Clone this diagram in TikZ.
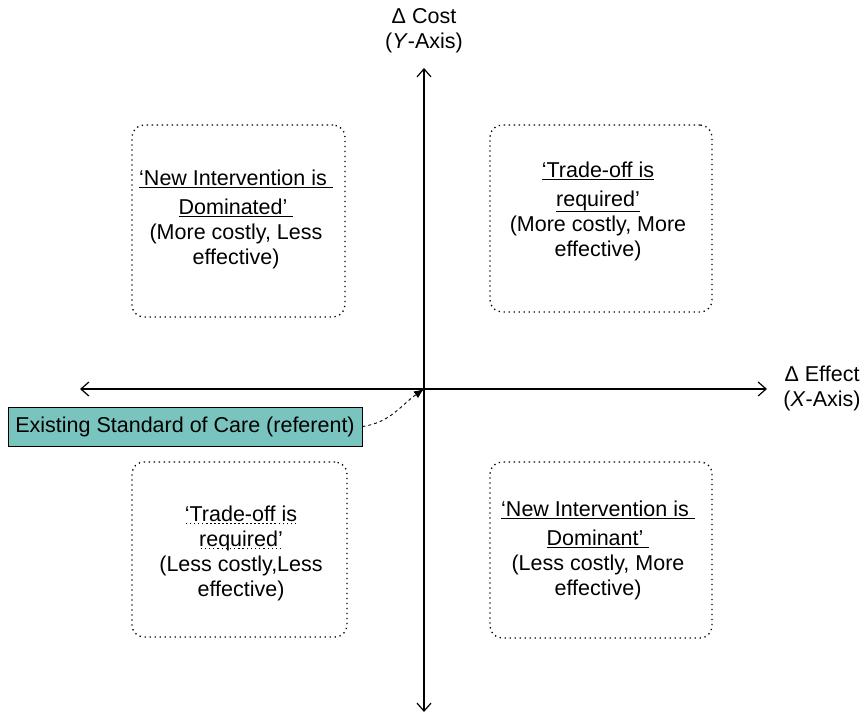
\documentclass[tikz,border=0pt]{standalone}
\usepackage{fontspec}
\setmainfont{Liberation Sans}
\usetikzlibrary{arrows.meta}
\definecolor{tealfill}{RGB}{122,196,192}
\newsavebox{\ulbox}
\newcommand{\myul}[2][-3pt]{\sbox{\ulbox}{#2}\leavevmode\rlap{\rule[#1]{\wd\ulbox}{1.3pt}}\usebox{\ulbox}}
\newcommand{\mydotul}[1]{\sbox{\ulbox}{#1}\leavevmode\rlap{\raisebox{-3pt}{\hbox to \wd\ulbox{\xleaders\hbox to 4pt{\hss\rule{1.2pt}{1.2pt}\hss}\hfill}}}\usebox{\ulbox}}
\begin{document}
\begin{tikzpicture}[x=1pt,y=-1pt,
  txt/.style={align=center,font=\fontsize{21.5}{25}\selectfont,inner sep=0pt},
  quad/.style={draw,line width=1.3pt,dash pattern=on 1.3pt off 3.7pt,rounded corners=12pt,
     minimum width=#1,inner sep=0pt},
  axis/.style={line width=1.2pt,{Straight Barb[length=8pt,width=14pt]}-{Straight Barb[length=8pt,width=14pt]}}
]
\useasboundingbox (0,0) rectangle (865,714);
% axes
\coordinate (top) at (424,68);
\coordinate (bottom) at (424,712);
\coordinate (left) at (80,389);
\coordinate (right) at (767,389);
\coordinate (origin) at (424,389);
\draw[axis] (bottom) -- (top);
\draw[axis] (left) -- (right);
% axis labels
\node[txt] (ylab) at (424,31) {Δ Cost\\(\textit{Y}-Axis)};
\node[txt] (xlab) at (822,388) {Δ Effect\\(\textit{X}-Axis)};
% quadrant boxes
\node[quad=213pt,minimum height=192pt] (q1) at (238.5,221) {};
\node[quad=222pt,minimum height=187pt] (q2) at (601,218.5) {};
\node[quad=215pt,minimum height=175pt] (q3) at (239.5,549.5) {};
\node[quad=222pt,minimum height=176pt] (q4) at (601,550) {};
% quadrant texts
\node[txt] (t1) at (236,219) {\myul{‘New Intervention is\ }\\[4pt]\myul{Dominated’\ }\\(More costly, Less\\effective)};
\node[txt] (t2) at (598,211) {\myul{‘Trade-off is}\\[4pt]\myul[-6pt]{required’}\\(More costly, More\\effective)};
\node[txt] (t3) at (241,553) {\mydotul{‘Trade-off is}\\\mydotul{required’}\\(Less costly,Less\\effective)};
\node[txt] (t4) at (598,550) {\myul{‘New Intervention is\ }\\[4pt]\myul{Dominant’\ }\\(Less costly, More\\effective)};
% referent box
\node[draw,fill=tealfill,line width=0.8pt,minimum width=354pt,minimum height=39pt,inner sep=0pt,
  font=\fontsize{21.5}{25}\selectfont] (ref) at (185,426.5) {Existing Standard of Care (referent)};
\draw[line width=0.9pt,dashed,-{Latex[length=10pt,width=8pt]}] (ref.east) to[out=8,in=-145] (origin);
\end{tikzpicture}
\end{document}
